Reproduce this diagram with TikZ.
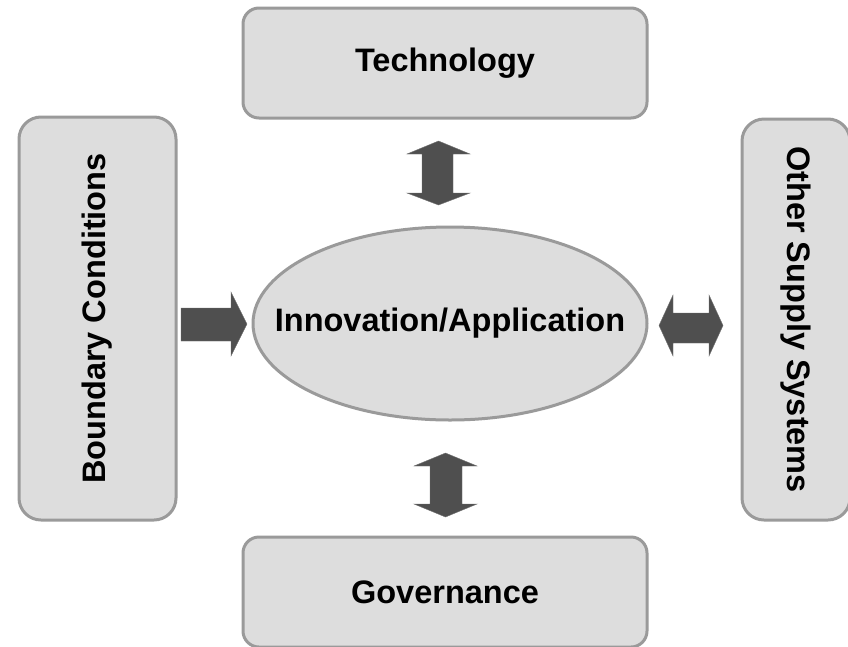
\documentclass[tikz,border=0pt]{standalone}
\usepackage{fontspec}
\setmainfont{Liberation Sans}
\usetikzlibrary{shapes.geometric}
\definecolor{boxfill}{HTML}{DDDDDD}
\definecolor{boxline}{HTML}{9A9A9A}
\definecolor{arrowfill}{HTML}{4F4F4F}
\begin{document}
\begin{tikzpicture}[x=1pt,y=-1pt,
  lbl/.style={font=\fontsize{32.5}{36}\selectfont\bfseries, text=black},
  wbox/.style={lbl, draw=boxline, fill=boxfill, line width=3pt, rounded corners=16pt,
    minimum width=404pt, minimum height=110pt, inner sep=0pt},
  tbox/.style={lbl, draw=boxline, fill=boxfill, line width=3pt, rounded corners=22pt,
    inner sep=0pt},
  blockarrow/.style={fill=arrowfill, draw=arrowfill!80!white, line width=0.4pt}]
\useasboundingbox (0,0) rectangle (848,646);
\fill[white] (0,0) rectangle (848,646);
% boxes
\node[wbox] (tech) at (445,63) {Technology};
\node[wbox] (gov) at (445,592) {Governance};
\node[tbox, rotate=90, minimum width=403pt, minimum height=157pt] (bound) at (97.5,318.5) {Boundary Conditions};
\node[tbox, rotate=-90, minimum width=401pt, minimum height=108pt] (other) at (796,319.5) {Other Supply Systems};
% ellipse
\node[ellipse, draw=boxline, fill=boxfill, line width=3pt, minimum width=394pt, minimum height=193pt, inner sep=0pt, lbl] (innov) at (450,323.5) {\makebox[0pt]{Innovation/Application}};
% block arrows
% left single arrow: Boundary -> Innovation
\path[blockarrow] (181,308) -- (231,308) -- (231,292) -- (247,324) -- (231,356) -- (231,341) -- (181,341) -- cycle;
% top double arrow: Technology <-> Innovation
\path[blockarrow] (438.5,141) -- (470,154) -- (453,154) -- (453,193) -- (470,193) -- (438.5,205) -- (407,193) -- (422,193) -- (422,154) -- (407,154) -- cycle;
% bottom double arrow: Innovation <-> Governance
\path[blockarrow] (445.5,453) -- (477,466) -- (462,466) -- (462,504) -- (477,504) -- (445.5,517) -- (414,504) -- (430,504) -- (430,466) -- (414,466) -- cycle;
% right double arrow: Innovation <-> Other Supply Systems
\path[blockarrow] (659,325.5) -- (673,295) -- (673,313) -- (709,313) -- (709,295) -- (723,325.5) -- (709,356) -- (709,343) -- (673,343) -- (673,356) -- cycle;
\end{tikzpicture}
\end{document}
